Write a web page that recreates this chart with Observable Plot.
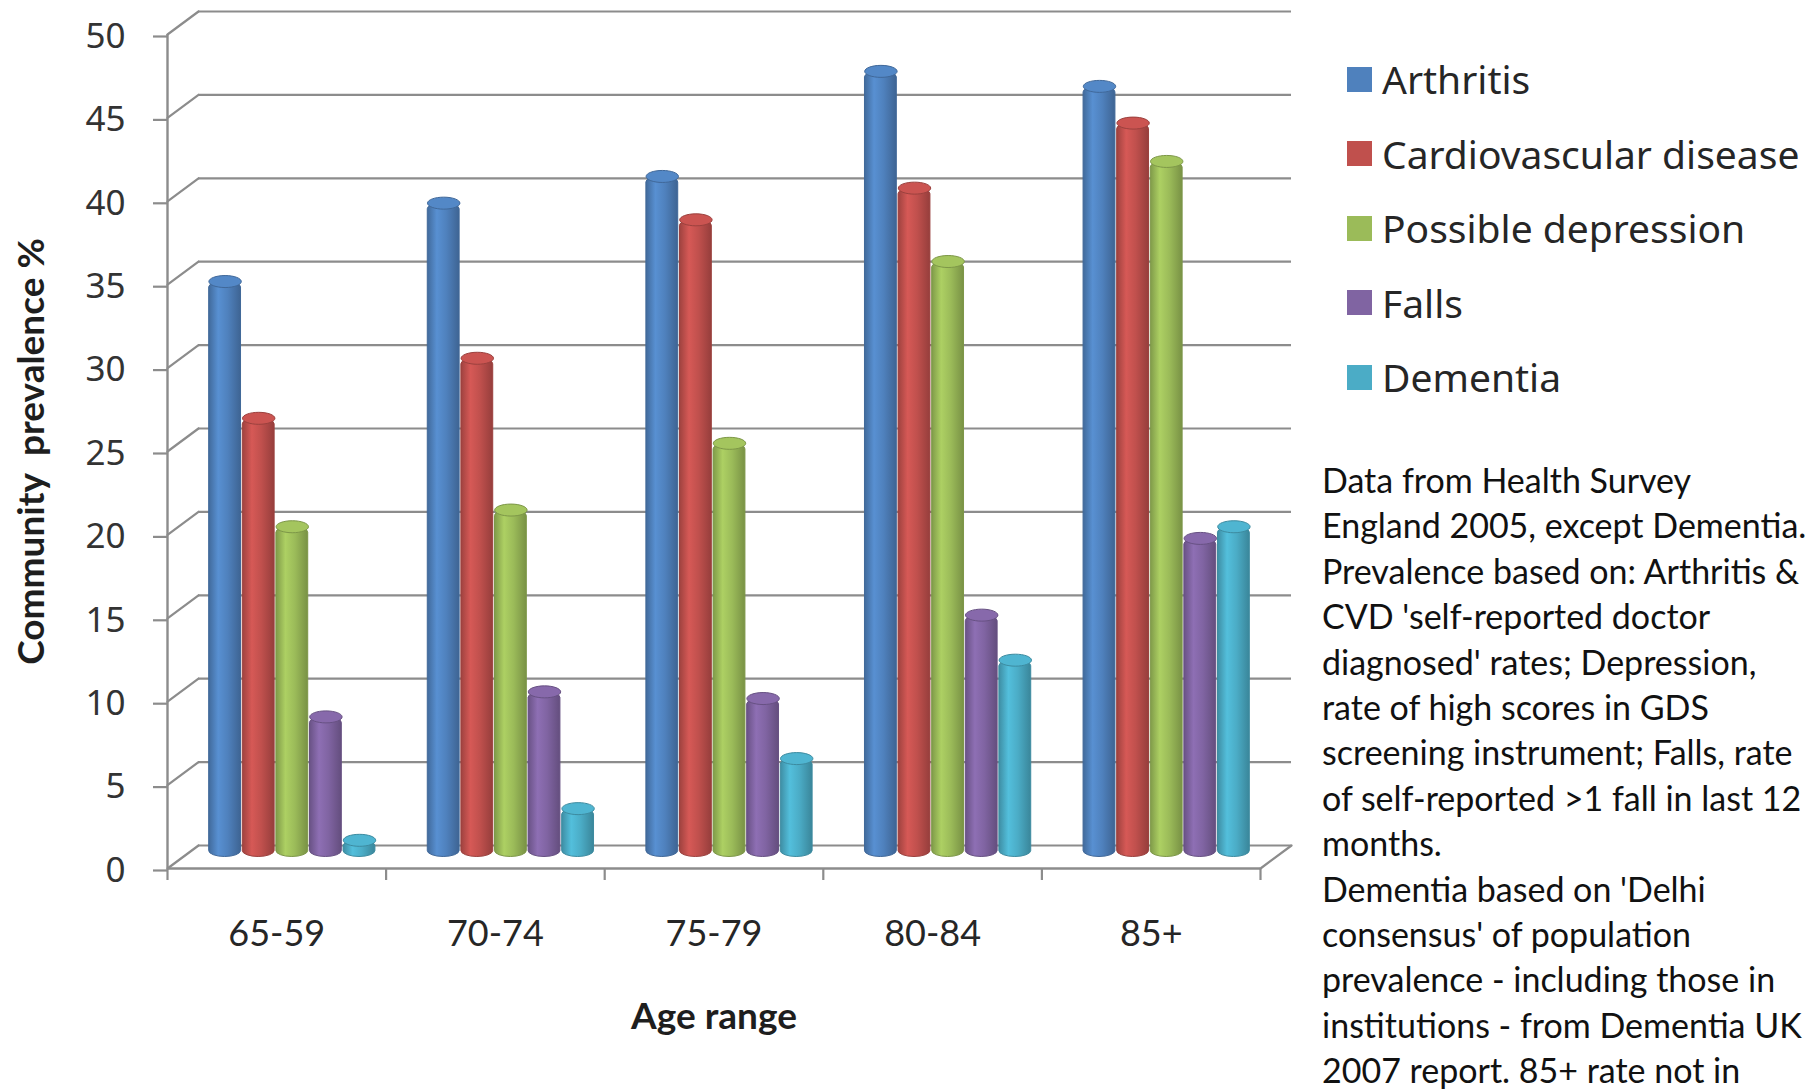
<!DOCTYPE html>
<html>
<head>
<meta charset="utf-8">
<script src="https://cdn.jsdelivr.net/npm/d3@7"></script>
<script src="https://cdn.jsdelivr.net/npm/@observablehq/plot@0.6"></script>
<style>
  html, body { margin: 0; padding: 0; background: #fff; overflow: hidden; }
  #wrap { position: relative; width: 1814px; height: 1091px; overflow: hidden; background: #fff; }
  #chart { position: absolute; left: 0; top: 0; }
  #legend { position: absolute; left: 1347px; top: 42px; font-family: "Noto Sans", sans-serif; font-size: 39px; color: #262626; }
  .lg-row { position: relative; height: 74.6px; white-space: nowrap; }
  .lg-sw { position: absolute; left: 0; top: 24.5px; width: 25px; height: 25px; }
  .lg-tx { position: absolute; left: 35px; top: 0; line-height: 74px; }
  #note { position: absolute; left: 1322px; top: 457px; font-family: Lato, sans-serif; font-size: 34px; line-height: 45.4px; color: #111; white-space: nowrap; }
</style>
</head>
<body>
<div id="wrap">
  <div id="chart"></div>
  <div id="legend"></div>
  <div id="note"></div>
</div>
<script>
// ---- data ----
const ages = ["65-59", "70-74", "75-79", "80-84", "85+"];
const seriesNames = ["Arthritis", "Cardiovascular disease", "Possible depression", "Falls", "Dementia"];
const arthritis      = [34.5, 39.2, 40.8, 47.1, 46.2];
const cardiovascular = [26.3, 29.9, 38.2, 40.1, 44.0];
const depression     = [19.8, 20.8, 24.8, 35.7, 41.7];
const falls          = [8.4, 9.9, 9.5, 14.5, 19.1];
const dementia       = [1.0, 2.9, 5.9, 11.8, 19.8];
const yTicks = [0, 5, 10, 15, 20, 25, 30, 35, 40, 45, 50];
const seriesColors = ["#4F81BD", "#C0504D", "#9BBB59", "#8064A2", "#4BACC6"];
const noteLines = [
  "Data from Health Survey",
  "England 2005, except Dementia.",
  "Prevalence based on: Arthritis &",
  "CVD 'self-reported doctor",
  "diagnosed' rates; Depression,",
  "rate of high scores in GDS",
  "screening instrument; Falls, rate",
  "of self-reported >1 fall in last 12",
  "months.",
  "Dementia based on 'Delhi",
  "consensus' of population",
  "prevalence - including those in",
  "institutions - from Dementia UK",
  "2007 report. 85+ rate not in"
];

const seriesValues = [arthritis, cardiovascular, depression, falls, dementia];
const rows = [];
seriesValues.forEach((vals, si) => vals.forEach((v, gi) => rows.push({age: ages[gi], gi, series: seriesNames[si], si, value: v})));

// ---- styling helpers ----
const slot = 0.1537;       // bar slot width in group units
const gap = 0.004;
const depthDx = 31, depthDy = 23;
const gridColor = "#8c8c8c";
const lineShape = {draw(context, l) { context.moveTo(0, 0); context.lineTo(0, -l); }};
const capShape = {draw(context) {
  const rx = 16.2, ry = 6, k = 0.5523;
  context.moveTo(rx, 0);
  context.bezierCurveTo(rx, ry * k, rx * k, ry, 0, ry);
  context.bezierCurveTo(-rx * k, ry, -rx, ry * k, -rx, 0);
  context.bezierCurveTo(-rx, -ry * k, -rx * k, -ry, 0, -ry);
  context.bezierCurveTo(rx * k, -ry, rx, -ry * k, rx, 0);
  context.closePath();
}};
const vecLen = Math.hypot(depthDx, depthDy);
const vecRot = Math.atan2(depthDx, depthDy) * 180 / Math.PI;

const barMarks = seriesNames.map((s, si) =>
  Plot.rectY(rows.filter(d => d.si === si), {
    x1: d => d.gi + 0.5 + (d.si - 2.5) * slot + gap,
    x2: d => d.gi + 0.5 + (d.si - 1.5) * slot - gap,
    y1: 0,
    y2: "value",
    dx: depthDx / 2,
    dy: -depthDy / 2,
    rx: 16,
    ry: 6,
    fill: `url(#cyl${si})`,
    stroke: d3.color(seriesColors[si]).darker(0.6).formatHex(),
    strokeWidth: 1
  })
);

const chart = Plot.plot({
  width: 1310,
  height: 1091,
  marginLeft: 167,
  marginRight: 50,
  marginTop: 34,
  marginBottom: 223,
  style: {fontFamily: "'Noto Sans', sans-serif", fontSize: "34px", background: "white", color: "#333"},
  x: {type: "linear", domain: [0, 5]},
  y: {domain: [0, 50]},
  color: {domain: seriesNames, range: seriesColors.map(c => d3.color(c).brighter(0.15).formatHex())},
  marks: [
    // back wall gridlines
    Plot.ruleY(yTicks, {dx: depthDx, dy: -depthDy, stroke: gridColor, strokeWidth: 2.2}),
    // side-wall diagonals (left) and floor right edge
    Plot.vector(yTicks, {x: 0, y: d => d, length: vecLen, rotate: vecRot, anchor: "start", shape: lineShape, stroke: gridColor, strokeWidth: 2.2}),
    Plot.vector([0], {x: 5, y: d => d, length: vecLen, rotate: vecRot, anchor: "start", shape: lineShape, stroke: gridColor, strokeWidth: 2.2}),
    // front axis lines
    Plot.ruleY([0], {stroke: gridColor, strokeWidth: 2.4}),
    Plot.ruleX([0], {stroke: gridColor, strokeWidth: 2.4}),
    Plot.axisY({ticks: yTicks, tickSize: 14, tickPadding: 28, stroke: gridColor, strokeWidth: 2.2, fill: "#333", fontSize: 35, dy: 2, label: null}),
    Plot.axisX({ticks: [0, 1, 2, 3, 4, 5], tickSize: 12, tickFormat: () => "", stroke: gridColor, strokeWidth: 2.2, label: null}),
    // bars
    ...barMarks,
    Plot.dot(rows, {
      x: d => d.gi + 0.5 + (d.si - 2) * slot,
      y: "value",
      dx: depthDx / 2,
      dy: -depthDy / 2,
      symbol: capShape,
      fill: "series",
      stroke: d => d3.color(seriesColors[d.si]).darker(0.6).formatHex(),
      strokeWidth: 1
    }),
    // category labels
    Plot.text(ages, {x: (d, i) => i + 0.5, frameAnchor: "bottom", dy: 77, text: d => d, fontFamily: "Lato, sans-serif", fontSize: 36, fill: "#262626"}),
    Plot.text(["Age range"], {frameAnchor: "bottom", dy: 160, text: d => d, fontFamily: "Lato, sans-serif", fontWeight: "bold", fontSize: 37, fill: "#1e1e1e"}),
    Plot.text(["Community  prevalence %"], {frameAnchor: "left", textAnchor: "middle", dx: -135, rotate: -90, text: d => d, fontFamily: "Lato, sans-serif", fontWeight: "bold", fontSize: 37, fill: "#1e1e1e"})
  ]
});

// cylinder gradients
const defs = d3.select(chart).insert("defs", ":first-child");
seriesColors.forEach((c, i) => {
  const g = defs.append("linearGradient").attr("id", `cyl${i}`).attr("x1", 0).attr("x2", 1).attr("y1", 0).attr("y2", 0);
  const base = d3.color(c);
  [[0, base.darker(0.55)], [0.3, base.brighter(0.3)], [0.6, base], [1, base.darker(0.7)]].forEach(([o, col]) =>
    g.append("stop").attr("offset", o).attr("stop-color", col.formatHex()));
});

document.getElementById("chart").appendChild(chart);

// legend
const legend = document.getElementById("legend");
seriesNames.forEach((s, i) => {
  const row = document.createElement("div");
  row.className = "lg-row";
  const sw = document.createElement("div");
  sw.className = "lg-sw";
  sw.style.background = seriesColors[i];
  const tx = document.createElement("div");
  tx.className = "lg-tx";
  tx.textContent = s;
  row.appendChild(sw);
  row.appendChild(tx);
  legend.appendChild(row);
});

// note
const note = document.getElementById("note");
noteLines.forEach(line => {
  const div = document.createElement("div");
  div.textContent = line;
  note.appendChild(div);
});
</script>
</body>
</html>
